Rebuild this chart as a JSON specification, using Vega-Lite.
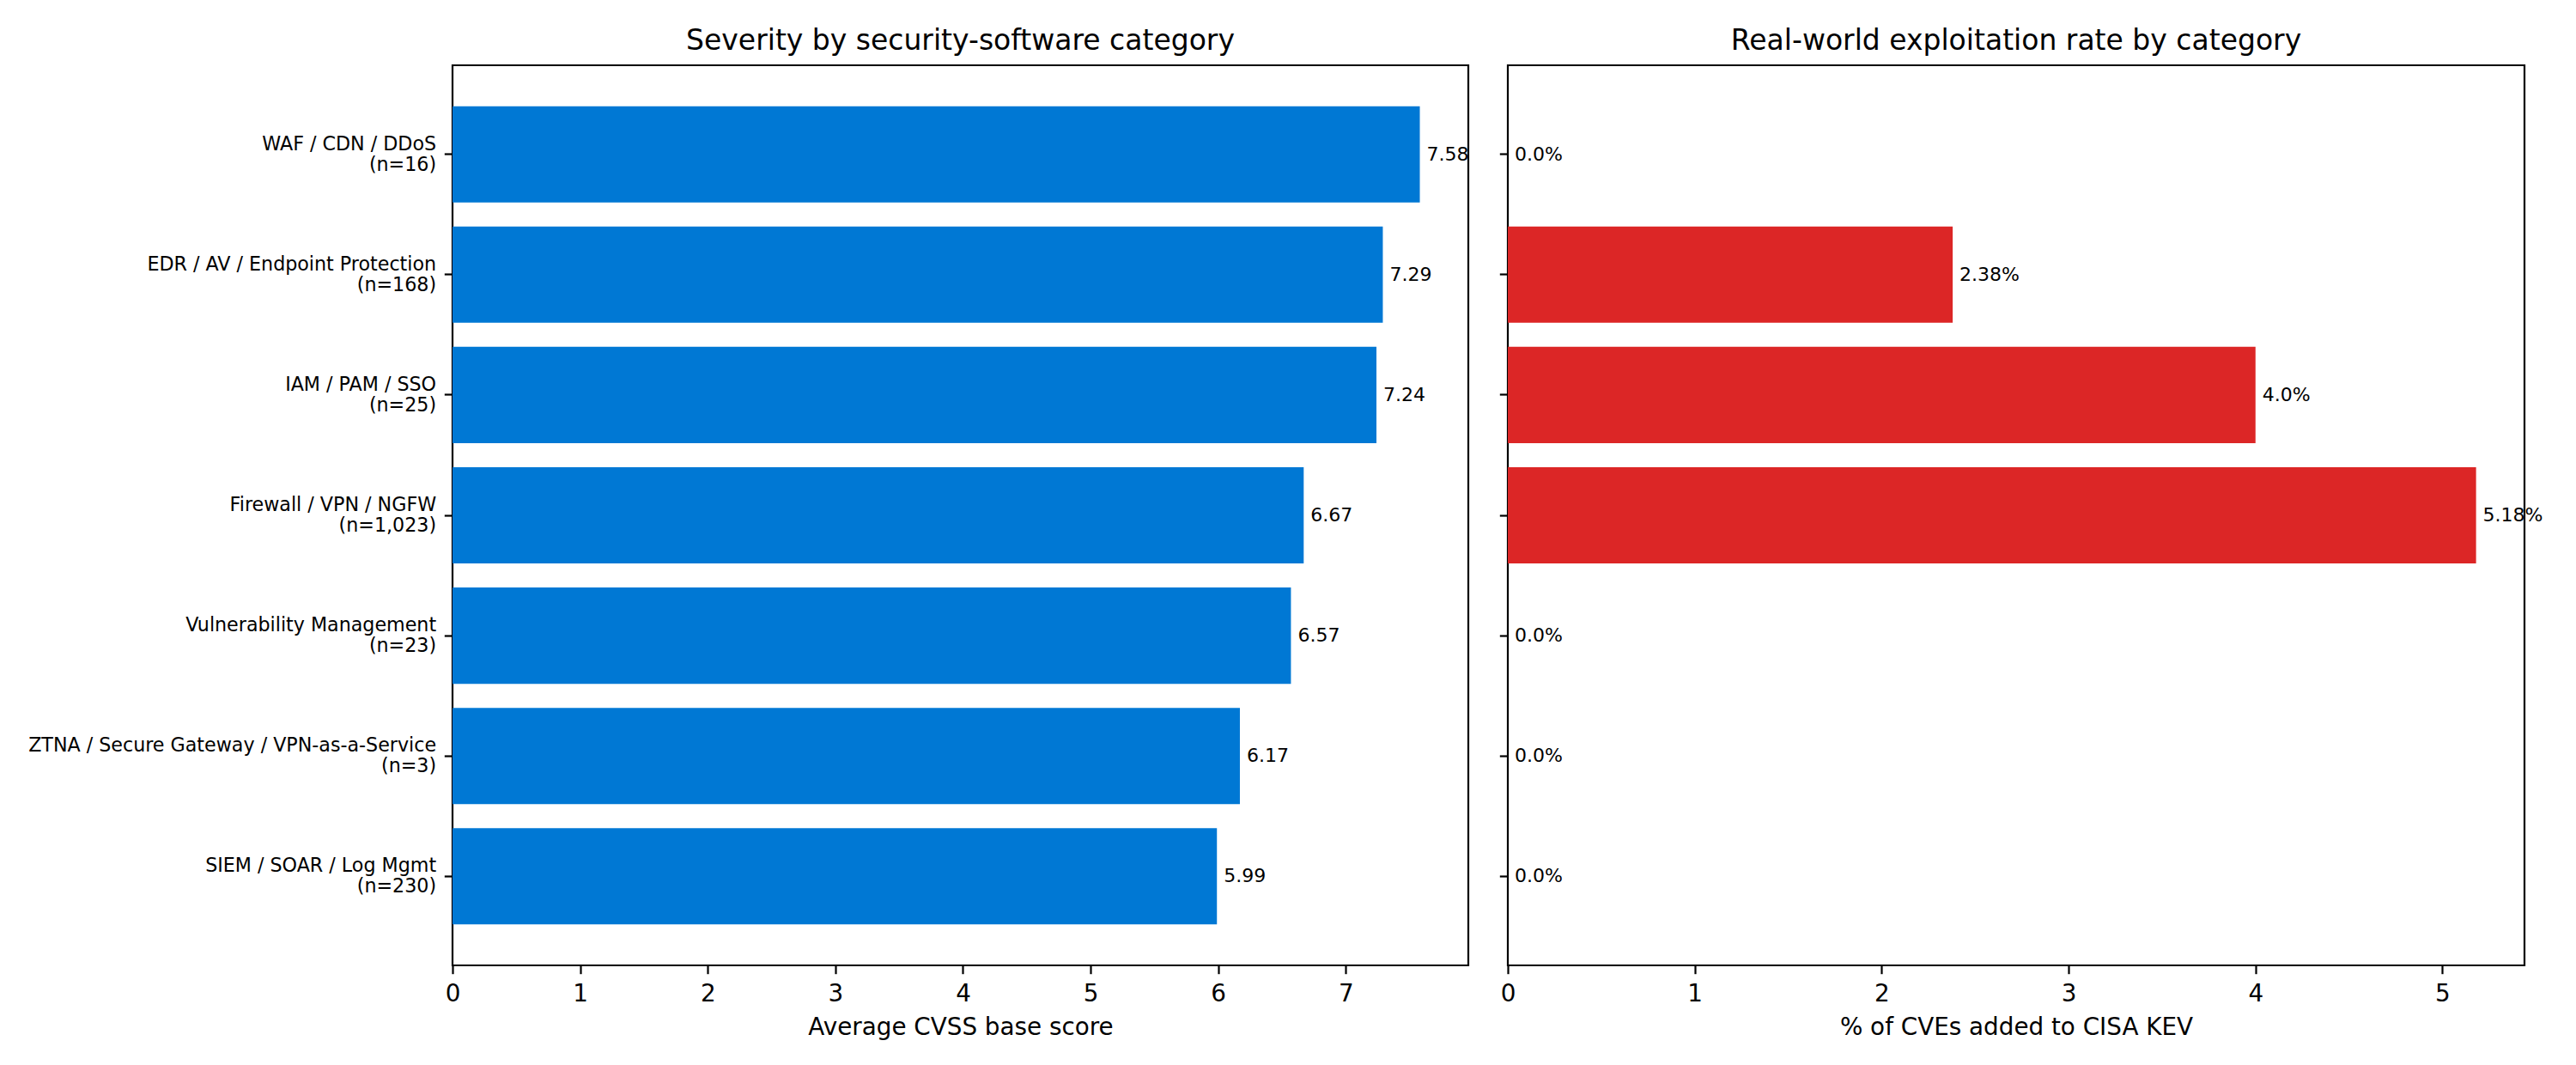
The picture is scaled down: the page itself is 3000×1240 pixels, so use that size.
{
  "$schema": "https://vega.github.io/schema/vega-lite/v6.json",
  "background": "white",
  "padding": {"left": 31, "top": 30, "right": 5, "bottom": 5},
  "datasets": {
    "cats": [
      {"label": "WAF / CDN / DDoS\n(n=16)", "cvss": 7.58, "kev": 0.0, "kev_text": "0.0%"},
      {"label": "EDR / AV / Endpoint Protection\n(n=168)", "cvss": 7.29, "kev": 2.38, "kev_text": "2.38%"},
      {"label": "IAM / PAM / SSO\n(n=25)", "cvss": 7.24, "kev": 4.0, "kev_text": "4.0%"},
      {"label": "Firewall / VPN / NGFW\n(n=1,023)", "cvss": 6.67, "kev": 5.18, "kev_text": "5.18%"},
      {"label": "Vulnerability Management\n(n=23)", "cvss": 6.57, "kev": 0.0, "kev_text": "0.0%"},
      {"label": "ZTNA / Secure Gateway / VPN-as-a-Service\n(n=3)", "cvss": 6.17, "kev": 0.0, "kev_text": "0.0%"},
      {"label": "SIEM / SOAR / Log Mgmt\n(n=230)", "cvss": 5.99, "kev": 0.0, "kev_text": "0.0%"}
    ]
  },
  "data": {"name": "cats"},
  "spacing": 46,
  "bounds": "flush",
  "hconcat": [
    {
      "width": 1183,
      "height": 1048,
      "title": {"text": "Severity by security-software category", "fontSize": 33, "fontWeight": "normal", "offset": -15, "baseline": "alphabetic", "color": "#000", "font": "DejaVu Sans"},
      "encoding": {
        "y": {
          "field": "label", "type": "nominal", "sort": null,
          "scale": {"paddingInner": 0.2, "paddingOuter": 0.34},
          "axis": {"title": null, "labelExpr": "split(datum.label, '\\n')", "labelFontSize": 22.2, "labelLineHeight": 24, "labelOffset": -12, "labelLimit": 1000}
        },
        "x": {
          "field": "cvss", "type": "quantitative",
          "scale": {"domain": [0, 7.96], "nice": false, "zero": true},
          "axis": {"title": "Average CVSS base score", "values": [0, 1, 2, 3, 4, 5, 6, 7], "labelFlush": false}
        }
      },
      "layer": [
        {"mark": {"type": "bar", "color": "#0078d4"}},
        {"mark": {"type": "text", "align": "left", "baseline": "middle", "dx": 8, "fontSize": 22, "color": "#000"},
         "encoding": {"text": {"field": "cvss", "type": "quantitative", "format": ".2f"}}}
      ]
    },
    {
      "width": 1184,
      "height": 1048,
      "title": {"text": "Real-world exploitation rate by category", "fontSize": 33, "fontWeight": "normal", "offset": -15, "baseline": "alphabetic", "color": "#000", "font": "DejaVu Sans"},
      "encoding": {
        "y": {
          "field": "label", "type": "nominal", "sort": null,
          "scale": {"paddingInner": 0.2, "paddingOuter": 0.34},
          "axis": {"title": null, "labels": false}
        },
        "x": {
          "field": "kev", "type": "quantitative",
          "scale": {"domain": [0, 5.439], "nice": false, "zero": true},
          "axis": {"title": "% of CVEs added to CISA KEV", "values": [0, 1, 2, 3, 4, 5], "labelFlush": false}
        }
      },
      "layer": [
        {"mark": {"type": "bar", "color": "#dc2626"}},
        {"mark": {"type": "text", "align": "left", "baseline": "middle", "dx": 8, "fontSize": 22, "color": "#000"},
         "encoding": {"text": {"field": "kev_text", "type": "nominal"}}}
      ]
    }
  ],
  "resolve": {"scale": {"y": "independent"}},
  "config": {
    "font": "DejaVu Sans",
    "view": {"stroke": "#000", "strokeWidth": 2.2},
    "axis": {
      "domain": false,
      "grid": false,
      "ticks": true,
      "tickColor": "#000",
      "tickSize": 9.7,
      "tickWidth": 2.2,
      "labelPadding": 9.7,
      "labelColor": "#000",
      "labelFontSize": 27.8,
      "labelFont": "DejaVu Sans",
      "titleFont": "DejaVu Sans",
      "titleFontSize": 27.8,
      "titleFontWeight": "normal",
      "titleColor": "#000",
      "titlePadding": 11
    }
  }
}
